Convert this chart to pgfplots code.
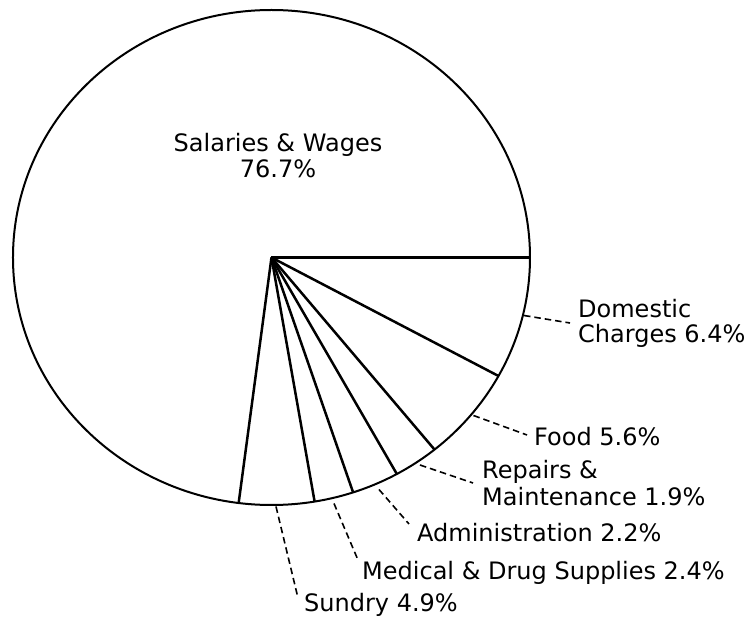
\documentclass[border=0pt]{standalone}
\usepackage{pgfplots}
\pgfplotsset{compat=1.18}
\usepgfplotslibrary{polar}
\usepackage{fontspec}
\setmainfont{DejaVu Sans}
% slice boundaries as drawn in the picture (degrees, counter-clockwise from 3 o'clock)
% Domestic 6.4%, Food 5.6%, Repairs 1.9%, Administration 2.2%, Medical 2.4%, Sundry 4.9%, Salaries 76.7%
\begin{document}
\begin{tikzpicture}
\useasboundingbox (-271.5pt,-362.5pt) rectangle (481.5pt,257.5pt);
\begin{polaraxis}[
  at={(0pt,0pt)}, anchor=center,
  width=517pt, height=495pt, scale only axis,
  xmin=0, xmax=360, ymin=0, ymax=1,
  xtick=\empty, ytick=\empty,
  axis line style={line width=2pt, black},
  clip=false,
]
\addplot[black, line width=2.5pt] coordinates {(0,0) (0,1)};
\addplot[black, line width=2.5pt] coordinates {(0,0) (-28.6,1)};
\addplot[black, line width=2.5pt] coordinates {(0,0) (-50.9,1)};
\addplot[black, line width=2.5pt] coordinates {(0,0) (-61.0,1)};
\addplot[black, line width=2.5pt] coordinates {(0,0) (-71.6,1)};
\addplot[black, line width=2.5pt] coordinates {(0,0) (-80.4,1)};
\addplot[black, line width=2.5pt] coordinates {(0,0) (-97.3,1)};
\end{polaraxis}
\begin{scope}[xshift=1.5pt, every node/.style={inner sep=0pt, font=\fontsize{24}{28}\selectfont}]
\node[anchor=base] at (5pt,105.5pt) {Salaries \& Wages};
\node[anchor=base] at (5pt,79.5pt) {76.7\%};
\node[anchor=base west] at (305pt,-60.5pt) {Domestic};
\node[anchor=base west] at (305pt,-85.5pt) {Charges 6.4\%};
\node[anchor=base west] at (261pt,-188.5pt) {Food 5.6\%};
\node[anchor=base west] at (209pt,-221.5pt) {Repairs \&};
\node[anchor=base west] at (209pt,-248.5pt) {Maintenance 1.9\%};
\node[anchor=base west] at (144pt,-284.5pt) {Administration 2.2\%};
\node[anchor=base west] at (89pt,-322.5pt) {Medical \& Drug Supplies 2.4\%};
\node[anchor=base west] at (31pt,-354.5pt) {Sundry 4.9\%};
\end{scope}
\begin{scope}[xshift=1.5pt, line width=1.6pt, dash pattern=on 6.5pt off 4pt]
\draw (251pt,-58.0pt) -- (297pt,-65.5pt);
\draw (200.5pt,-158.0pt) -- (254pt,-177.5pt);
\draw (147.0pt,-207.5pt) -- (200pt,-225.5pt);
\draw (106.0pt,-232.0pt) -- (136pt,-266.5pt);
\draw (61.0pt,-246.0pt) -- (85pt,-302.5pt);
\draw (3.0pt,-249pt) -- (25pt,-340.5pt);
\end{scope}
\end{tikzpicture}
\end{document}
